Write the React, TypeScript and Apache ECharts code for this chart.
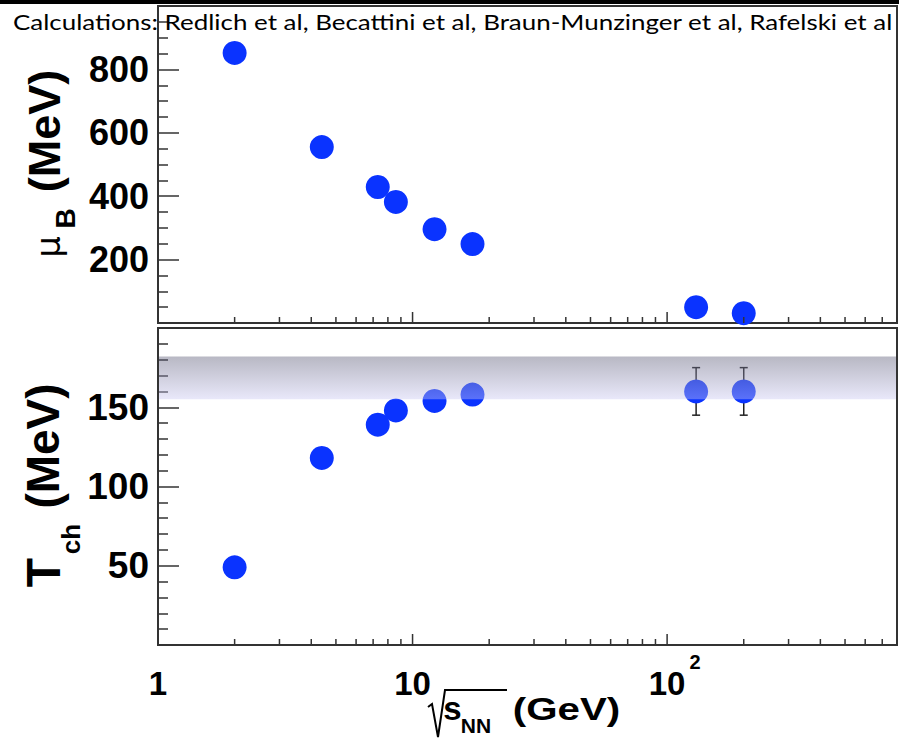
import React, { useEffect, useRef } from 'react';
import * as echarts from 'echarts';

const sqrtS = [2.0, 4.4, 7.3, 8.6, 12.2, 17.2, 130, 200];
const muB = [852, 555, 429, 382, 296, 249, 50, 31];
const tCh = [49, 118, 139, 148, 154, 158, 160, 160];
const errX = [130, 200];
const errLow = [145, 145];
const errHigh = [175, 175];
const bandRange = [155, 182];
const xMajorTicks = [1, 10, 100];
const xMinorTicks = [2, 3, 4, 5, 6, 7, 8, 9, 20, 30, 40, 50, 60, 70, 80, 90, 200, 300, 400, 500, 600, 700, 800];
const titleText = 'Calculations: Redlich et al, Becattini et al, Braun-Munzinger et al, Rafelski et al';

const FF = '"Liberation Sans", Arial, Helvetica, sans-serif';
const DARK = '#333333';
const BLUE = '#0a33ff';

function tickSeries(ticks: number[], len: number, gi: number) {
  return {
    type: 'custom',
    xAxisIndex: gi,
    yAxisIndex: gi,
    silent: true,
    z: 4,
    clip: false,
    data: ticks.map((v) => [v, gi === 0 ? 500 : 100]),
    encode: { x: 0, y: 1 },
    renderItem: (params: any, api: any) => {
      const cs = params.coordSys;
      const x = api.coord([api.value(0), api.value(1)])[0];
      const yb = cs.y + cs.height;
      return {
        type: 'line',
        shape: { x1: x, y1: yb, x2: x, y2: yb - len },
        style: { stroke: DARK, lineWidth: 1.5 },
      };
    },
  };
}

export default function App() {
  const ref = useRef<HTMLDivElement>(null);
  useEffect(() => {
    const chart = echarts.init(ref.current!, null, { renderer: 'svg' });
    const ctx = document.createElement('canvas').getContext('2d')!;
    ctx.font = '22px Lato';
    const tw = ctx.measureText(titleText).width || 880;
    const titleScale = 880 / tw;

    const yLabel = (size: number) => ({
      showMinLabel: false,
      showMaxLabel: false,
      fontSize: size,
      fontWeight: 'bold',
      fontFamily: FF,
      color: '#000',
      margin: 9,
    });
    const yTick = { show: true, inside: true, length: 21, lineStyle: { color: DARK, width: 1.5 } };

    const option: any = {
      animation: false,
      backgroundColor: '#fff',
      grid: [
        { left: 158, top: 6, width: 739, height: 317, show: true, borderColor: DARK, borderWidth: 2 },
        { left: 158, top: 328, width: 739, height: 317, show: true, borderColor: DARK, borderWidth: 2 },
      ],
      xAxis: [
        {
          gridIndex: 0, type: 'log', logBase: 10, min: 1, max: 800,
          axisLine: { show: false }, axisTick: { show: false }, axisLabel: { show: false },
          splitLine: { show: false },
        },
        {
          gridIndex: 1, type: 'log', logBase: 10, min: 1, max: 800,
          axisLine: { show: false }, axisTick: { show: false }, splitLine: { show: false },
          axisLabel: {
            show: true,
            showMaxLabel: false,
            margin: 7,
            formatter: (v: number) => {
              const l = Math.log10(v);
              const e = Math.round(l);
              if (Math.abs(l - e) > 1e-6) return '';
              if (e === 0) return '{n|1}';
              if (e === 1) return '{n|10}';
              return '{p|10}{s|' + e + '}';
            },
            rich: {
              n: { fontSize: 33, fontWeight: 'bold', fontFamily: FF, color: '#000', lineHeight: 63 },
              p: { fontSize: 33, fontWeight: 'bold', fontFamily: FF, color: '#000', lineHeight: 63, padding: [0, 0, 0, 15] },
              s: { fontSize: 20, fontWeight: 'bold', fontFamily: FF, color: '#000', lineHeight: 20, verticalAlign: 'top', padding: [0, 0, 0, 4] },
            },
          },
        },
      ],
      yAxis: [
        {
          gridIndex: 0, type: 'value', min: 0, max: 1000, interval: 200,
          axisLine: { show: false }, axisTick: yTick,
          minorTick: { show: true, splitNumber: 4, length: 10, lineStyle: { color: DARK, width: 1.5 } },
          splitLine: { show: false }, minorSplitLine: { show: false },
          axisLabel: yLabel(36),
        },
        {
          gridIndex: 1, type: 'value', min: 0, max: 200, interval: 50,
          axisLine: { show: false }, axisTick: yTick,
          minorTick: { show: true, splitNumber: 5, length: 10, lineStyle: { color: DARK, width: 1.5 } },
          splitLine: { show: false }, minorSplitLine: { show: false },
          axisLabel: yLabel(37),
        },
      ],
      series: [
        {
          type: 'scatter', xAxisIndex: 0, yAxisIndex: 0, z: 3,
          symbol: 'circle', symbolSize: 24,
          itemStyle: { color: BLUE, opacity: 1 },
          data: sqrtS.map((x, i) => [x, muB[i]]),
        },
        {
          type: 'custom', xAxisIndex: 1, yAxisIndex: 1, z: 2, silent: true,
          data: errX.map((x, i) => [x, errLow[i], errHigh[i]]),
          encode: { x: 0, y: [1, 2] },
          renderItem: (params: any, api: any) => {
            const x = api.value(0);
            const lo = api.coord([x, api.value(1)]);
            const hi = api.coord([x, api.value(2)]);
            const st = { stroke: '#222', lineWidth: 1.5 };
            return {
              type: 'group',
              children: [
                { type: 'line', shape: { x1: lo[0], y1: lo[1], x2: hi[0], y2: hi[1] }, style: st },
                { type: 'line', shape: { x1: lo[0] - 4, y1: lo[1], x2: lo[0] + 4, y2: lo[1] }, style: st },
                { type: 'line', shape: { x1: hi[0] - 4, y1: hi[1], x2: hi[0] + 4, y2: hi[1] }, style: st },
              ],
            };
          },
        },
        {
          type: 'scatter', xAxisIndex: 1, yAxisIndex: 1, z: 3,
          symbol: 'circle', symbolSize: 24,
          itemStyle: { color: BLUE, opacity: 1 },
          data: sqrtS.map((x, i) => [x, tCh[i]]),
        },
        {
          type: 'custom', xAxisIndex: 1, yAxisIndex: 1, z: 5, silent: true,
          data: [[10, bandRange[0], bandRange[1]]],
          encode: { x: 0, y: [1, 2] },
          renderItem: (params: any, api: any) => {
            const cs = params.coordSys;
            const yTop = api.coord([api.value(0), api.value(2)])[1];
            const yBot = api.coord([api.value(0), api.value(1)])[1];
            return {
              type: 'rect',
              shape: { x: cs.x + 1, y: yTop, width: cs.width - 2, height: yBot - yTop },
              style: {
                fill: new echarts.graphic.LinearGradient(0, 0, 0, 1, [
                  { offset: 0, color: 'rgba(86,86,114,0.42)' },
                  { offset: 1, color: 'rgba(202,200,243,0.42)' },
                ]),
              },
            };
          },
        },
        tickSeries(xMajorTicks, 11, 0),
        tickSeries(xMinorTicks, 6, 0),
        tickSeries(xMajorTicks, 11, 1),
        tickSeries(xMinorTicks, 6, 1),
      ],
      graphic: [
        { type: 'rect', z: 10, shape: { x: 0, y: 0, width: 899, height: 4 }, style: { fill: '#000' } },
        {
          type: 'text', z: 10, x: 13, y: 21, scaleX: titleScale,
          style: { text: titleText, fontFamily: 'Lato', fontSize: 22, fill: '#000', align: 'left', verticalAlign: 'middle' },
        },
        // y title top
        { type: 'text', z: 10, x: 47.5, y: 247, rotation: Math.PI / 2,
          style: { text: 'μ', fontFamily: '"DejaVu Sans", sans-serif', fontSize: 34, fill: '#000', align: 'center', verticalAlign: 'middle' } },
        { type: 'text', z: 10, x: 65, y: 218.5, rotation: Math.PI / 2,
          style: { text: 'B', fontFamily: FF, fontWeight: 'bold', fontSize: 28, fill: '#000', align: 'center', verticalAlign: 'middle' } },
        { type: 'text', z: 10, x: 44.5, y: 131, rotation: Math.PI / 2,
          style: { text: '(MeV)', fontFamily: FF, fontWeight: 'bold', fontSize: 45, fill: '#000', align: 'center', verticalAlign: 'middle' } },
        // y title bottom
        { type: 'text', z: 10, x: 43, y: 572.5, rotation: Math.PI / 2,
          style: { text: 'T', fontFamily: FF, fontWeight: 'bold', fontSize: 48, fill: '#000', align: 'center', verticalAlign: 'middle' } },
        { type: 'text', z: 10, x: 70.5, y: 539, rotation: Math.PI / 2,
          style: { text: 'ch', fontFamily: FF, fontWeight: 'bold', fontSize: 26, fill: '#000', align: 'center', verticalAlign: 'middle' } },
        { type: 'text', z: 10, x: 43, y: 446, rotation: Math.PI / 2,
          style: { text: '(MeV)', fontFamily: FF, fontWeight: 'bold', fontSize: 46, fill: '#000', align: 'center', verticalAlign: 'middle' } },
        // x title
        { type: 'polyline', z: 10,
          shape: { points: [[428, 707], [432, 704], [438, 737], [445, 690], [507, 690]] },
          style: { stroke: '#000', lineWidth: 2, fill: 'none' } },
        { type: 'text', z: 10, x: 452.5, y: 708.5,
          style: { text: 's', fontFamily: FF, fontWeight: 'bold', fontSize: 33, fill: '#000', align: 'center', verticalAlign: 'middle' } },
        { type: 'text', z: 10, x: 476, y: 725.5,
          style: { text: 'NN', fontFamily: FF, fontWeight: 'bold', fontSize: 21, fill: '#000', align: 'center', verticalAlign: 'middle' } },
        { type: 'text', z: 10, x: 566.5, y: 709, scaleX: 1.3,
          style: { text: '(GeV)', fontFamily: FF, fontWeight: 'bold', fontSize: 31, fill: '#000', align: 'center', verticalAlign: 'middle' } },
      ],
    };
    chart.setOption(option);
    return () => chart.dispose();
  }, []);
  return (
    <div
      ref={ref}
      style={{ position: 'fixed', left: 0, top: 0, width: 899, height: 740, background: '#fff' }}
    />
  );
}
